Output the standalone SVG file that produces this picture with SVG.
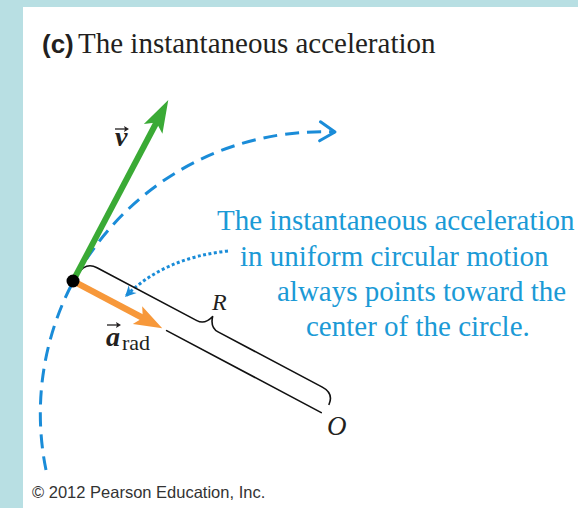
<svg xmlns="http://www.w3.org/2000/svg" width="578" height="508" viewBox="0 0 578 508">
<style>
.serif{font-family:"Liberation Serif","Times New Roman",serif}
.sans{font-family:"Liberation Sans",Arial,sans-serif}
.blue{fill:#1b9ad6;font-size:29px}
.ink{fill:#231f20}
.blk{fill:none;stroke:#111;stroke-width:1.6;stroke-linecap:round;stroke-linejoin:round}
</style>
<defs>
<marker id="chev" markerUnits="userSpaceOnUse" markerWidth="40" markerHeight="40" viewBox="-20 -20 40 40" refX="0" refY="0" orient="auto">
<path d="M-15,-9.5 L0,0 L-15,9.5" fill="none" stroke="#1a8cd8" stroke-width="3" stroke-linecap="round" stroke-linejoin="round"/>
</marker>
<marker id="dotHead" markerUnits="userSpaceOnUse" markerWidth="30" markerHeight="30" viewBox="-15 -15 30 30" refX="0" refY="0" orient="auto">
<path d="M0,0 L-11,-5.5 L-7.5,0 L-11,5.5 Z" fill="#1a8cd8"/>
</marker>
</defs>
<rect x="0" y="0" width="578" height="508" fill="#b8dfe3"/>
<rect x="23" y="7" width="555" height="501" fill="#ffffff"/>

<g id="title">
<text class="sans ink" x="42" y="53" font-size="26" font-weight="bold">(c)</text>
<text class="serif ink" x="78" y="53" font-size="29">The instantaneous acceleration</text>
</g>

<g id="connectors">
<path id="path-circle" d="M46,470 A282,282 0 0 1 335,132" fill="none" stroke="#1a8cd8" stroke-width="3" stroke-dasharray="14 8" marker-end="url(#chev)"/>
<path id="pointer" d="M228,251 Q163,258 125,297" fill="none" stroke="#1a8cd8" stroke-width="3" stroke-dasharray="3 2.5" marker-end="url(#dotHead)"/>
<g id="radius" transform="translate(73,281) rotate(27.93)">
<path class="blk" d="M106,0 L281,0"/>
<path class="blk" d="M1,-8 Q2,-23 15,-23 L128,-23 Q137,-23 140,-34 Q143,-23 152,-23 L270,-23 Q283,-23 284,-11"/>
</g>
</g>

<g id="velocity" transform="translate(73,281) rotate(-62.23)">
<line x1="0" y1="0" x2="180" y2="0" stroke="#3aaa35" stroke-width="6"/>
<path d="M204.5,0 L172,-10.5 L179,0 L172,10.5 Z" fill="#3aaa35"/>
</g>

<g id="acceleration" transform="translate(73,281) rotate(27.93)">
<line x1="0" y1="0" x2="80" y2="0" stroke="#f7983a" stroke-width="6.5"/>
<path d="M101,0 L73,-10 L79,0 L73,10 Z" fill="#f7983a"/>
</g>

<g id="particle">
<circle cx="73" cy="281" r="6.5" fill="#000"/>
</g>

<g id="label-v">
<text class="serif ink" x="115" y="146" font-size="28" font-style="italic" font-weight="bold">v</text>
<path d="M115,129 H126" stroke="#231f20" stroke-width="1.3"/>
<path d="M129,129 L124,126 L125,129 L124,132 Z" fill="#231f20"/>
</g>

<g id="label-a">
<text class="serif ink" x="106" y="346" font-size="28" font-style="italic" font-weight="bold">a</text>
<text class="serif ink" x="122" y="350" font-size="22">rad</text>
<path d="M107,325 H118" stroke="#231f20" stroke-width="1.3"/>
<path d="M121,325 L116,322 L117,325 L116,328 Z" fill="#231f20"/>
</g>

<g id="label-R">
<text class="serif ink" x="212" y="310" font-size="24" font-style="italic">R</text>
</g>

<g id="label-O">
<text class="serif ink" x="327" y="435" font-size="27" font-style="italic">O</text>
</g>

<g id="note">
<text class="serif blue" x="217" y="230">The instantaneous acceleration</text>
<text class="serif blue" x="240" y="266">in uniform circular motion</text>
<text class="serif blue" x="277" y="301">always points toward the</text>
<text class="serif blue" x="306" y="336">center of the circle.</text>
</g>

<g id="copyright">
<text class="sans" x="32" y="498" font-size="16.5" fill="#333">© 2012 Pearson Education, Inc.</text>
</g>
</svg>
